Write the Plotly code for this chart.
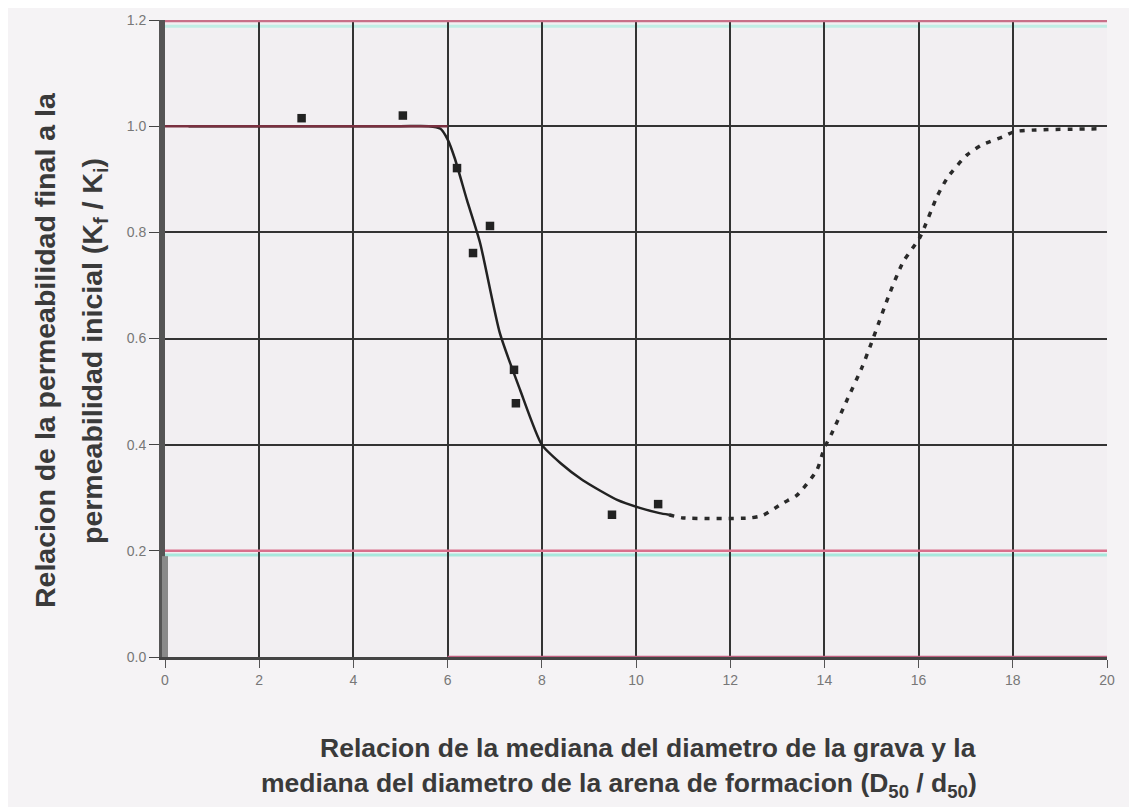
import plotly.graph_objects as go

# ---- data ----
marker_x = [2.9, 5.05, 6.2, 6.9, 6.54, 7.41, 7.45, 9.49, 10.47]
marker_y = [1.015, 1.02, 0.921, 0.812, 0.761, 0.541, 0.478, 0.268, 0.288]

solid_x = [0.5, 5.0, 5.6, 5.85, 6.0, 6.15, 6.41, 6.69, 7.11, 7.54, 8.0, 8.4, 8.87, 9.6, 10.08, 10.5, 10.7]
solid_y = [1.0, 1.0, 1.0, 0.995, 0.975, 0.94, 0.861, 0.78, 0.61, 0.503, 0.4, 0.365, 0.333, 0.296, 0.281, 0.271, 0.268]

dashed_x = [10.7, 11.0, 12.42, 12.7, 13.12, 13.42, 13.84, 14.0, 14.16, 14.48, 14.8, 15.0, 15.39,
            15.67, 16.03, 16.39, 16.62, 17.03, 17.35, 17.79, 18.05, 19.9]
dashed_y = [0.268, 0.262, 0.262, 0.267, 0.29, 0.305, 0.352, 0.394, 0.422, 0.484, 0.546, 0.592, 0.686,
            0.744, 0.791, 0.867, 0.904, 0.946, 0.965, 0.98, 0.99, 0.995]

x_ticks = [0, 2, 4, 6, 8, 10, 12, 14, 16, 18, 20]
y_ticks = [0.0, 0.2, 0.4, 0.6, 0.8, 1.0, 1.2]
x_title_1 = "Relacion de la mediana del diametro de la grava y la"
x_title_2 = "mediana del diametro de la arena de formacion (D<sub>50</sub> / d<sub>50</sub>)"
y_title_1 = "Relacion de la permeabilidad final a la"
y_title_2 = "permeabilidad inicial (K<sub>f</sub> / K<sub>i</sub>)"

fig = go.Figure()

fig.add_trace(go.Scatter(x=solid_x, y=solid_y, mode="lines", line=dict(color="#222", width=2.5, shape="spline", smoothing=0.6),
                         showlegend=False, hoverinfo="skip"))
fig.add_trace(go.Scatter(x=dashed_x, y=dashed_y, mode="lines",
                         line=dict(color="#2a2a2a", width=3.5, shape="spline", smoothing=0.6, dash="5px,7px"),
                         showlegend=False, hoverinfo="skip"))
fig.add_trace(go.Scatter(x=marker_x, y=marker_y, mode="markers",
                         marker=dict(symbol="square", size=8.5, color="#222"), showlegend=False))

# scan colour fringes along some grid lines
fig.add_shape(type="line", xref="x", yref="y", x0=0, x1=20, y0=1.198, y1=1.198,
              line=dict(color="#c87088", width=2.5), layer="above")
fig.add_shape(type="line", xref="x", yref="y", x0=0, x1=20, y0=1.188, y1=1.188,
              line=dict(color="#bfeee4", width=3), layer="below")
fig.add_shape(type="line", xref="x", yref="y", x0=0, x1=6, y0=1.0, y1=1.0,
              line=dict(color="#7a3040", width=2.5), layer="above")
fig.add_shape(type="line", xref="x", yref="y", x0=0, x1=20, y0=0.2, y1=0.2,
              line=dict(color="#d9708c", width=2.5), layer="above")
fig.add_shape(type="line", xref="x", yref="y", x0=0, x1=20, y0=0.192, y1=0.192,
              line=dict(color="#a8e8dc", width=3), layer="below")
fig.add_shape(type="line", xref="x", yref="y", x0=6, x1=20, y0=0.0, y1=0.0,
              line=dict(color="#c06080", width=2.5), layer="above")
fig.add_shape(type="line", xref="x", yref="y", x0=6, x1=20, y0=-0.009, y1=-0.009,
              line=dict(color="#b4f0e4", width=4), layer="above")
# lighter lower part of the thick left axis
fig.add_shape(type="line", xref="paper", yref="y", x0=0, x1=0, y0=0.0, y1=0.19,
              line=dict(color="#8a8a8a", width=6), layer="above")

fig.update_layout(
    width=1137, height=807,
    paper_bgcolor="#f5f3f5", plot_bgcolor="#f2eff2",
    margin=dict(l=157, r=38, t=12, b=158, autoexpand=False),
    font=dict(family="Liberation Sans, Arial, sans-serif", color="#444"),
)
fig.update_xaxes(range=[0, 20], tickvals=x_ticks, ticktext=[str(v) for v in x_ticks], automargin=False,
                 showgrid=True, gridcolor="#333", gridwidth=2, zeroline=False,
                 showline=True, linecolor="#444", linewidth=2.5, mirror=False,
                 ticks="outside", ticklen=8, tickcolor="#555", tickfont=dict(size=14, color="#777"))
fig.update_yaxes(range=[0, 1.2], tickvals=y_ticks, ticktext=[f"{v:.1f}" for v in y_ticks], automargin=False,
                 showgrid=True, gridcolor="#333", gridwidth=2, zeroline=False,
                 showline=True, linecolor="#555", linewidth=6,
                 ticks="outside", ticklen=10, tickcolor="#444", tickfont=dict(size=14, color="#777"))

tfx = dict(size=26.5, color="#3a3a3a", family="Liberation Sans, Arial, sans-serif", weight="bold")
tfy = dict(size=28.5, color="#3a3a3a", family="Liberation Sans, Arial, sans-serif", weight="bold")
# positions in paper coords: plot area is x 165..1107, y 20..657 (screen px)
def px_x(p):
    return (p - 165) / (1107 - 165)

def px_y(p):
    return (657 - p) / (657 - 20)

fig.add_annotation(text=x_title_1, xref="paper", yref="paper", x=px_x(648), y=px_y(748),
                   xanchor="center", yanchor="middle", showarrow=False, font=tfx)
fig.add_annotation(text=x_title_2, xref="paper", yref="paper", x=px_x(619), y=px_y(785),
                   xanchor="center", yanchor="middle", showarrow=False, font=tfx)
fig.add_annotation(text=y_title_1, xref="paper", yref="paper", x=px_x(45), y=px_y(350),
                   xanchor="center", yanchor="middle", textangle=-90, showarrow=False, font=tfy)
fig.add_annotation(text=y_title_2, xref="paper", yref="paper", x=px_x(94), y=px_y(351),
                   xanchor="center", yanchor="middle", textangle=-90, showarrow=False, font=tfy)

fig.write_html("out.html")
